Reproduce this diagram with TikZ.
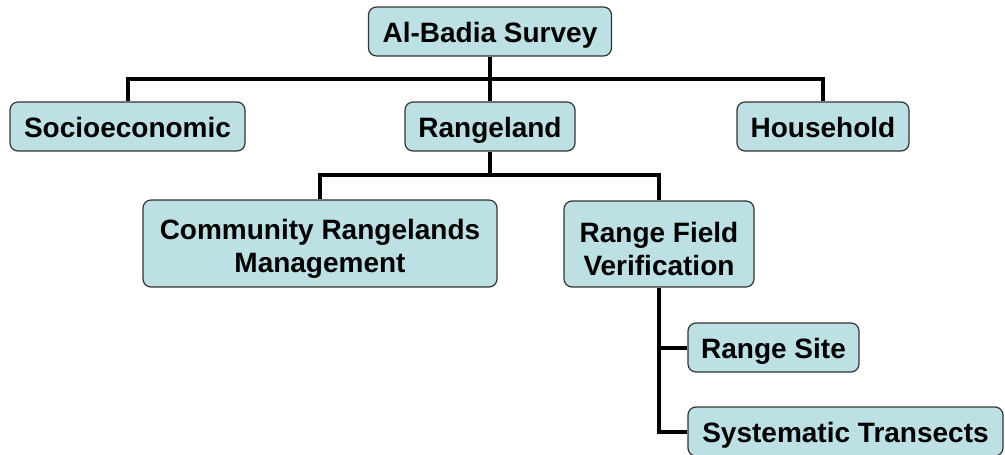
\documentclass[tikz,border=0pt]{standalone}
\usepackage{fontspec}
\setmainfont{Liberation Sans}
\begin{document}
\begin{tikzpicture}[x=1pt,y=-1pt,
  box/.style={draw=black!80, line width=1.2pt, fill=boxfill, rounded corners=8pt,
    inner sep=0pt, align=center, font=\fontsize{28}{33}\selectfont\bfseries},
  onebox/.style={box, text height=24pt, text depth=3pt, minimum height=49pt},
  link/.style={line width=4pt, line join=miter}]
\definecolor{boxfill}{HTML}{BCE0E3}
\useasboundingbox (0,0) rectangle (1005,455);
\node[onebox, minimum width=243pt] (top) at (490,31.5) {Al-Badia Survey};
\node[onebox, minimum width=235pt] (soc) at (127.5,126.5) {Socioeconomic};
\node[onebox, minimum width=170pt] (rang) at (490,126.5) {Rangeland};
\node[onebox, minimum width=172pt] (house) at (823,126.5) {Household};
\node[box, minimum width=354pt, minimum height=87pt] (comm) at (320,243.5) {\rule{0pt}{30pt}Community Rangelands\\Management};
\node[box, minimum width=190pt, minimum height=86pt] (rfv) at (659,244) {\rule{0pt}{30pt}Range Field\\Verification};
\node[onebox, minimum width=171pt] (site) at (773.5,347.5) {Range Site};
\node[onebox, minimum width=315pt] (sys) at (845.5,431.5) {Systematic Transects};
\coordinate (bus1) at (490,79);
\coordinate (bus2) at (490,175);
\draw[link] (soc.north) |- (bus1) -| (house.north);
\draw[link] (top.south) -- (rang.north);
\draw[link] (rang.south) -- (bus2);
\draw[link] (comm.north) |- (bus2) -| (rfv.north);
\draw[link] (rfv.south) |- (sys.west);
\draw[link] (rfv.south |- site.west) -- (site.west);
\end{tikzpicture}
\end{document}
